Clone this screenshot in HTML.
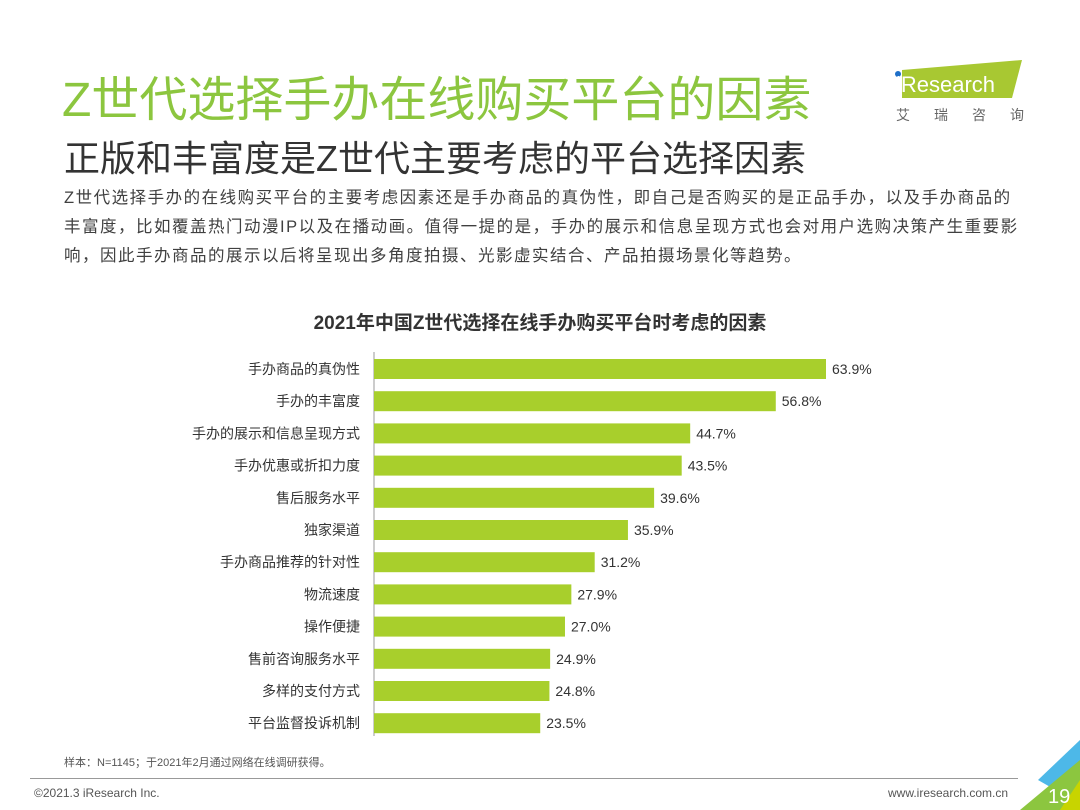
<!DOCTYPE html>
<html><head><meta charset="utf-8"><style>
body{margin:0;width:1080px;height:810px;background:#fff;position:relative;overflow:hidden;font-family:"Liberation Sans","Noto Sans CJK SC",sans-serif;}
.a{position:absolute;white-space:nowrap;}
</style></head><body>
<div class="a" style="left:62px;top:60px;font-size:48px;color:#8cc63f;">Z世代选择手办在线购买平台的因素</div>
<div class="a" style="left:64px;top:130px;font-size:36px;color:#333;">正版和丰富度是Z世代主要考虑的平台选择因素</div>
<div class="a" style="left:64px;top:184px;font-size:16.5px;letter-spacing:1.5px;line-height:29px;color:#404040;">Z世代选择手办的在线购买平台的主要考虑因素还是手办商品的真伪性，即自己是否购买的是正品手办，以及手办商品的<br>丰富度，比如覆盖热门动漫IP以及在播动画。值得一提的是，手办的展示和信息呈现方式也会对用户选购决策产生重要影<br>响，因此手办商品的展示以后将呈现出多角度拍摄、光影虚实结合、产品拍摄场景化等趋势。</div>
<div class="a" style="left:888px;top:56px;width:140px;height:66px;">
<svg width="140" height="66"><polygon points="14,14 134,4 124,42 14,42" fill="#a8c832"/><circle cx="10" cy="18" r="3" fill="#1e6fc8"/><text x="8" y="36" font-size="22" fill="#fff" font-family="Liberation Sans">iResearch</text><text x="8" y="64" font-size="14" fill="#666" letter-spacing="24" font-family="Noto Sans CJK SC">艾瑞咨询</text></svg></div>
<div class="a" style="left:0;width:1080px;text-align:center;top:308px;font-size:19px;font-weight:bold;color:#333;">2021年中国Z世代选择在线手办购买平台时考虑的因素</div>
<svg class="a" style="left:0;top:0" width="1080" height="810" id="chart"></svg>
<div class="a" style="left:64px;top:754px;font-size:11px;color:#555;">样本：N=1145；于2021年2月通过网络在线调研获得。</div>
<div class="a" style="left:34px;top:786px;font-size:12px;color:#555;">©2021.3 iResearch Inc.</div>
<div class="a" style="left:888px;top:786px;font-size:12px;color:#555;">www.iresearch.com.cn</div>
<div class="a" style="left:30px;top:778px;width:988px;height:1px;background:#999;"></div>
<svg class="a" style="left:1000px;top:720px" width="80" height="90"><polygon points="80,20 80,50 52,68 38,60" fill="#4db8e8"/><polygon points="80,40 80,90 20,90" fill="#8cc63f"/><polygon points="60,90 80,60 80,90" fill="#c8d400"/><text x="48" y="83" font-size="20" fill="#fff" font-family="Liberation Sans">19</text></svg>
<script>
const categories=["手办商品的真伪性","手办的丰富度","手办的展示和信息呈现方式","手办优惠或折扣力度","售后服务水平","独家渠道","手办商品推荐的针对性","物流速度","操作便捷","售前咨询服务水平","多样的支付方式","平台监督投诉机制"];
const values=[63.9,56.8,44.7,43.5,39.6,35.9,31.2,27.9,27.0,24.9,24.8,23.5];
const svg=document.getElementById('chart');
const NS='http://www.w3.org/2000/svg';
const x0=374,scale=452/63.9,y0=369,step=32.2,bh=20;
const xs=v=>x0+v*scale, ys=i=>y0+i*step;
const axis=document.createElementNS(NS,'line');
axis.setAttribute('x1',x0);axis.setAttribute('x2',x0);axis.setAttribute('y1',352);axis.setAttribute('y2',736);axis.setAttribute('stroke','#999');


svg.appendChild(axis);
categories.forEach((c,i)=>{
 const r=document.createElementNS(NS,'rect');
 r.setAttribute('x',x0);r.setAttribute('y',ys(i)-bh/2);r.setAttribute('width',xs(values[i])-x0);r.setAttribute('height',bh);r.setAttribute('fill','#a8cf2c');
 
 
 svg.appendChild(r);
 const t=document.createElementNS(NS,'text');
 t.setAttribute('x',x0-14);t.setAttribute('y',ys(i)+5);t.setAttribute('text-anchor','end');t.setAttribute('font-size','14');t.setAttribute('fill','#333');
 t.textContent=c;
 
 
 svg.appendChild(t);
 const v=document.createElementNS(NS,'text');
 v.setAttribute('x',xs(values[i])+6);v.setAttribute('y',ys(i)+5);v.setAttribute('font-size','14');v.setAttribute('fill','#333');
 v.textContent=values[i].toFixed(1)+'%';
 
 
 svg.appendChild(v);
});
</script>
</body></html>
